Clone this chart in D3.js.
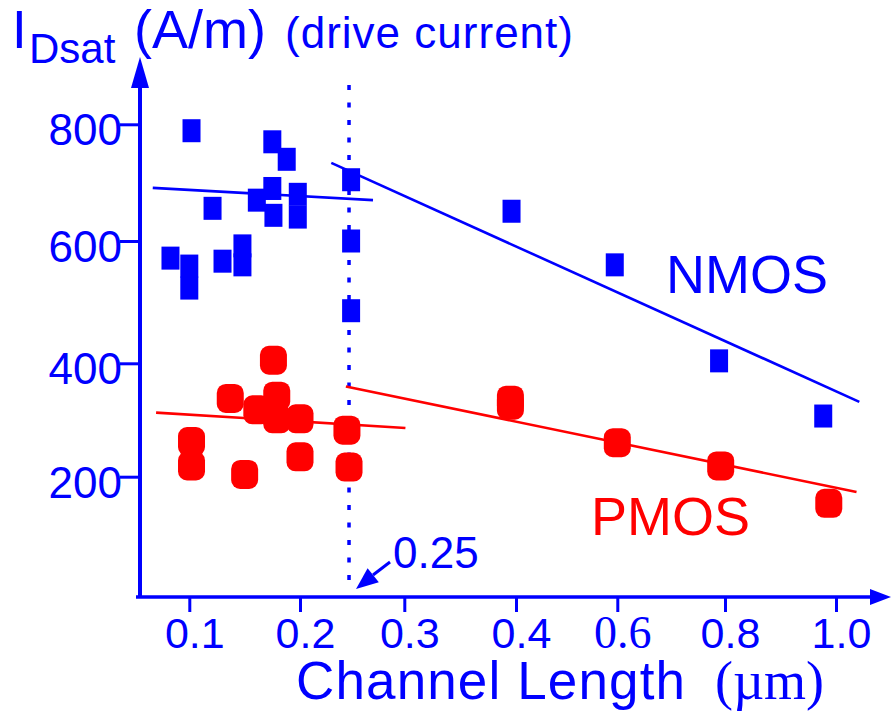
<!DOCTYPE html>
<html>
<head>
<meta charset="utf-8">
<script src="https://cdn.jsdelivr.net/npm/d3@7"></script>
<style>
  body { margin: 0; background: #fff; }
  svg { display: block; font-family: "Liberation Sans", Arial, sans-serif; }
</style>
</head>
<body>
<svg width="891" height="713"></svg>
<script>
// drive current vs channel length, NMOS squares / PMOS rounded dots

const xTicks = [0.1, 0.2, 0.3, 0.4, 0.6, 0.8, 1.0]
const xTickLabels = ["0.1", "0.2", "0.3", "0.4", "0.6", "0.8", "1.0"]
const yTicks = [200, 400, 600, 800]

const nmosL = [0.102, 0.175, 0.188, 0.161, 0.175, 0.176, 0.198, 0.198, 0.121, 0.083, 0.1, 0.1,
    0.13, 0.148, 0.148, 0.249, 0.249, 0.249, 0.396, 0.595, 0.789, 0.977]
const nmosI = [789, 770, 740, 670, 690, 644, 680, 641, 656, 572, 559, 523,
    567, 592, 561, 705, 600, 486, 651, 561, 404, 307]

const pmosL = [0.176, 0.137, 0.161, 0.179, 0.179, 0.2, 0.2, 0.102, 0.102, 0.15, 0.245, 0.247,
    0.395, 0.395, 0.6, 0.792, 0.987]
const pmosI = [405, 338, 318, 342, 302, 302, 235, 262, 219, 204, 282, 217,
    335, 326, 260, 219, 153]

// fitted trend lines [start, end] as [length, current]
const nmosFitShort = [[0.067, 691], [0.27, 670]]
const nmosFitLong = [[0.23, 734], [1.042, 332]]
const pmosFitShort = [[0.07, 313], [0.301, 286]]
const pmosFitLong = [[0.244, 359], [1.037, 173]]

const cutoff = 0.247
const cutoffLabel = "0.25"

const blue = "#0000ff"
const red = "#ff0000"

const svg = d3.select("svg")

// the hand drawn axes are not evenly spaced, so use piecewise scales
const x = d3.scaleLinear()
    .domain(xTicks)
    .range([189.3, 300, 404.3, 516, 617.3, 725, 836])

const y = d3.scaleLinear()
    .domain(yTicks)
    .range([476.7, 363.3, 241, 124.3])

const axisY = 597
const axisX = 140

// dotted line at 0.25
svg.append("line")
    .attr("x1", x(cutoff)).attr("x2", x(cutoff))
    .attr("y1", 85).attr("y2", axisY - 5)
    .attr("stroke", blue)
    .attr("stroke-width", 3.5)
    .attr("stroke-dasharray", "5 12.5")

// x axis
const xAxis = svg.append("g")
    .attr("transform", "translate(0," + axisY + ")")
    .call(d3.axisBottom(x).tickValues(xTicks).tickSize(15)
        .tickFormat((d, i) => xTickLabels[i]))

xAxis.select(".domain").remove()
xAxis.selectAll(".tick line")
    .attr("stroke", blue)
    .attr("stroke-width", 3)
xAxis.selectAll(".tick text")
    .attr("y", 51)
    .attr("dy", null)
    .attr("dx", 5)
    .attr("fill", blue)
    .attr("font-size", 43)
    .attr("font-family", "Liberation Sans, Arial, sans-serif")
    .filter(d => d === 0.6)
    .attr("font-family", "Liberation Serif, Times New Roman, serif")
    .attr("font-size", 46)

svg.append("line")
    .attr("x1", 136).attr("x2", 872)
    .attr("y1", axisY).attr("y2", axisY)
    .attr("stroke", blue)
    .attr("stroke-width", 3.5)
svg.append("path")
    .attr("d", "M870," + (axisY - 8) + "L891," + axisY + "L870," + (axisY + 8) + "Z")
    .attr("fill", blue)

// y axis
const yAxis = svg.append("g")
    .attr("transform", "translate(" + axisX + ",0)")
    .call(d3.axisLeft(y).tickValues(yTicks).tickSize(20))

yAxis.select(".domain").remove()
yAxis.selectAll(".tick line")
    .attr("stroke", blue)
    .attr("stroke-width", 3)
yAxis.selectAll(".tick text")
    .attr("x", -18)
    .attr("dy", "0.47em")
    .attr("fill", blue)
    .attr("font-size", 44)
    .attr("font-family", "Liberation Sans, Arial, sans-serif")

svg.append("line")
    .attr("x1", axisX).attr("x2", axisX)
    .attr("y1", axisY + 1).attr("y2", 86)
    .attr("stroke", blue)
    .attr("stroke-width", 4)
svg.append("path")
    .attr("d", "M" + (axisX - 9) + ",88L" + axisX + ",57L" + (axisX + 9) + ",88Z")
    .attr("fill", blue)

// fit lines
const line = d3.line()
    .x(d => x(d[0]))
    .y(d => y(d[1]))

const fits = [
    [nmosFitShort, blue], [nmosFitLong, blue],
    [pmosFitShort, red], [pmosFitLong, red]
]
fits.forEach(f => {
    svg.append("path")
        .attr("d", line(f[0]))
        .attr("fill", "none")
        .attr("stroke", f[1])
        .attr("stroke-width", 2.6)
})

// PMOS points
svg.append("g")
    .selectAll("rect")
    .data(pmosL)
    .enter()
    .append("rect")
    .attr("x", d => x(d) - 13.5)
    .attr("y", (d, i) => y(pmosI[i]) - 14.5)
    .attr("width", 27)
    .attr("height", 29)
    .attr("rx", 9)
    .attr("fill", red)

// NMOS points
svg.append("g")
    .selectAll("rect")
    .data(nmosL)
    .enter()
    .append("rect")
    .attr("x", d => x(d) - 9)
    .attr("y", (d, i) => y(nmosI[i]) - 11.5)
    .attr("width", 18)
    .attr("height", 23)
    .attr("fill", blue)

// labels
svg.append("text")
    .attr("x", 666).attr("y", 293)
    .attr("font-size", 54)
    .attr("fill", blue)
    .text("NMOS")

svg.append("text")
    .attr("x", 591).attr("y", 535)
    .attr("font-size", 54)
    .attr("fill", red)
    .text("PMOS")

// 0.25 annotation with arrow
const tipX = x(cutoff) + 7
const tipY = axisY - 8
svg.append("line")
    .attr("x1", tipX + 17).attr("y1", tipY - 14)
    .attr("x2", tipX + 34).attr("y2", tipY - 27)
    .attr("stroke", blue)
    .attr("stroke-width", 3)
svg.append("path")
    .attr("d", "M" + tipX + "," + tipY + "L" + (tipX + 11.6) + "," + (tipY - 20.7) +
        "L" + (tipX + 22.8) + "," + (tipY - 6.7) + "Z")
    .attr("fill", blue)
svg.append("text")
    .attr("x", 393).attr("y", 568)
    .attr("font-size", 44)
    .attr("fill", blue)
    .text(cutoffLabel)

// axis titles
svg.append("text")
    .attr("x", 296).attr("y", 699)
    .attr("font-size", 53)
    .attr("textLength", 389)
    .attr("fill", blue)
    .text("Channel Length")

svg.append("text")
    .attr("x", 715).attr("y", 699)
    .attr("font-size", 54)
    .attr("font-family", "Liberation Serif, Times New Roman, serif")
    .attr("fill", blue)
    .text("(\u00b5m)")

svg.append("text")
    .attr("x", 12).attr("y", 48)
    .attr("font-size", 53)
    .attr("fill", blue)
    .text("I")

svg.append("text")
    .attr("x", 29).attr("y", 63)
    .attr("font-size", 42)
    .attr("fill", blue)
    .text("Dsat")

svg.append("text")
    .attr("x", 134).attr("y", 48)
    .attr("font-size", 54)
    .attr("fill", blue)
    .text("(A/m)")

svg.append("text")
    .attr("x", 285).attr("y", 48)
    .attr("font-size", 44)
    .attr("textLength", 288)
    .attr("fill", blue)
    .text("(drive current)")
</script>
</body>
</html>
